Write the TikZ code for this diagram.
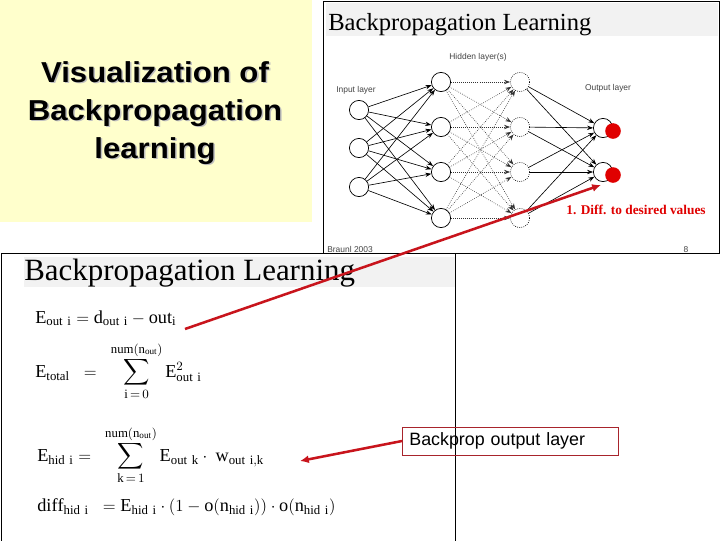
\documentclass[tikz,border=0pt]{standalone}
\usepackage{fontspec}
\setmainfont{Liberation Serif}
\setsansfont{Liberation Sans}
\newfontfamily\bpheadfont[FakeStretch=1.08]{Liberation Sans}
\usetikzlibrary{arrows.meta,calc,positioning}
\definecolor{bpYellow}{HTML}{FFFFCC}
\definecolor{bpBand}{HTML}{F2F2F2}
\definecolor{bpRed}{HTML}{E00000}
\definecolor{bpPointer}{HTML}{C8141C}
\definecolor{bpBoxLine}{HTML}{A8242C}
\definecolor{bpMuted}{HTML}{444444}
\newcommand\bpSum{\mathop{\vcenter{\hbox{\scalebox{1.3}{$\displaystyle\sum$}}}}\limits}
\tikzset{
  bp headline/.style={font=\bpheadfont\bfseries\fontsize{20.5}{27}\selectfont,
    align=center, inner sep=0pt},
  bp upper title/.style={font=\fontsize{17.5}{20}\selectfont, anchor=base west, inner sep=0pt},
  bp lower title/.style={font=\fontsize{22}{26}\selectfont, anchor=base west, inner sep=0pt},
  bp neuron/.style={circle, draw, line width=0.5pt, fill=white,
    minimum size=0.48cm, inner sep=0pt},
  bp hidden/.style={bp neuron, densely dotted},
  bp hit/.style={circle, fill=bpRed, minimum size=0.39cm, inner sep=0pt},
  bp edge/.style={-{Stealth[length=1.5mm,width=1.1mm]}, line width=0.45pt},
  bp weak edge/.style={bp edge, densely dotted, draw=black!80},
  bp tiny/.style={font=\sffamily\fontsize{6}{7}\selectfont, text=bpMuted, inner sep=0pt},
  bp eq/.style={anchor=base west, inner sep=0pt, font=\fontsize{13}{15}\selectfont},
  bp note/.style={font=\bfseries\fontsize{9.5}{11}\selectfont, text=bpRed, inner sep=0pt},
  bp callout/.style={draw=bpBoxLine, line width=0.5pt, anchor=west,
    font=\sffamily\fontsize{12.7}{14}\selectfont, text width=5.05cm,
    inner xsep=0.175cm, minimum height=0.7cm, align=left},
  bp pointer/.style={-{Latex[length=2.2mm,width=2mm]}, draw=bpPointer, line width=1.8pt}
}
\begin{document}
\begin{tikzpicture}[x=0.025cm, y=-0.025cm]
\useasboundingbox (0,0) rectangle (720,540);

% title card
\fill[bpYellow] (0,0) rectangle (312,222);
\node[bp headline, text=black!25] (headshadow) at (156.5,114.5)
  {Visualization of\\Backpropagation\\learning};
\node[bp headline] (headline) at (155,113)
  {Visualization of\\Backpropagation\\learning};

% upper slide: the network
\draw[fill=white, line width=0.6pt] (323,1) rectangle (719,253);
\fill[bpBand] (326,3) rectangle (718,36);
\node[bp upper title] (upTitle) at (328,30) {Backpropagation Learning};

\foreach \i/\y in {1/110,2/148,3/187}
  \node[bp neuron] (in\i) at (359,\y) {};
\foreach \i/\y in {1/82,2/127,3/172,4/218}{
  \node[bp neuron] (hA\i) at (441,\y) {};
  \node[bp hidden] (hB\i) at (520,\y) {};
}
\foreach \i/\y in {1/128,2/172}
  \node[bp neuron] (out\i) at (603,\y) {};

\foreach \i in {1,2,3}
  \foreach \j in {1,...,4}
    \draw[bp edge] (in\i) -- (hA\j);
\foreach \i in {1,...,4}
  \foreach \j in {1,...,4}
    \draw[bp weak edge] (hA\i) -- (hB\j);
\foreach \i in {1,...,4}
  \foreach \j in {1,2}
    \draw[bp edge] (hB\i) -- (out\j);

\node[bp hit] (hit1) at (613,131) {};
\node[bp hit] (hit2) at (613,175) {};

\node[bp tiny] (inLabel) at (356,90) {Input layer};
\node[bp tiny] (hidLabel) at (478,57) {Hidden layer(s)};
\node[bp tiny] (outLabel) at (608,88) {Output layer};
\node[bp note] (diffNote) at (636,210) {1. Diff. to desired values};
\node[bp tiny, anchor=base west] (credit) at (327,252) {Braunl 2003};
\node[bp tiny, anchor=base] (pageNo) at (686,252) {8};

% lower slide: the formulas
\draw[fill=white, line width=0.6pt] (1,253) rectangle (455,541);
\fill[bpBand] (24,257) rectangle (455,287);
\node[bp lower title] (lowTitle) at (24,280) {Backpropagation Learning};

\node[bp eq] (eqErr) at (35,323)
  {$\mathrm{E}_{\mathrm{out\ i}} = \mathrm{d}_{\mathrm{out\ i}} - \mathrm{out}_{\mathrm{i}}$};
\node[bp eq] (eqTotal) at (35,377)
  {$\mathrm{E}_{\mathrm{total}}\;\;=\;\;\bpSum_{\mathrm{i}\,=\,0}^{\mathrm{num}(\mathrm{n}_{\mathrm{out}})}\mathrm{E}^{2}_{\mathrm{out\ i}}$};
\node[bp eq] (eqHid) at (37,461)
  {$\mathrm{E}_{\mathrm{hid\ i}} =\;\;\bpSum_{\mathrm{k}\,=\,1}^{\mathrm{num}(\mathrm{n}_{\mathrm{out}})}\mathrm{E}_{\mathrm{out\ k}}\cdot\ \mathrm{w}_{\mathrm{out\ i,k}}$};
\node[bp eq] (eqDiff) at (37,511)
  {$\mathrm{diff}_{\mathrm{hid\ i}}\;\;=\mathrm{E}_{\mathrm{hid\ i}}\cdot(1-\mathrm{o}(\mathrm{n}_{\mathrm{hid\ i}}))\cdot\mathrm{o}(\mathrm{n}_{\mathrm{hid\ i}})$};

\node[bp callout] (backprop) at (402,441) {Backprop output layer};

% pointers
\coordinate (errEnd) at (185,329);
\coordinate (wTip) at (300,461);
\draw[bp pointer] (errEnd) -- ($(out2.south)+(-2,3)$);
\draw[bp pointer] (backprop.west) -- (wTip);
\end{tikzpicture}
\end{document}
